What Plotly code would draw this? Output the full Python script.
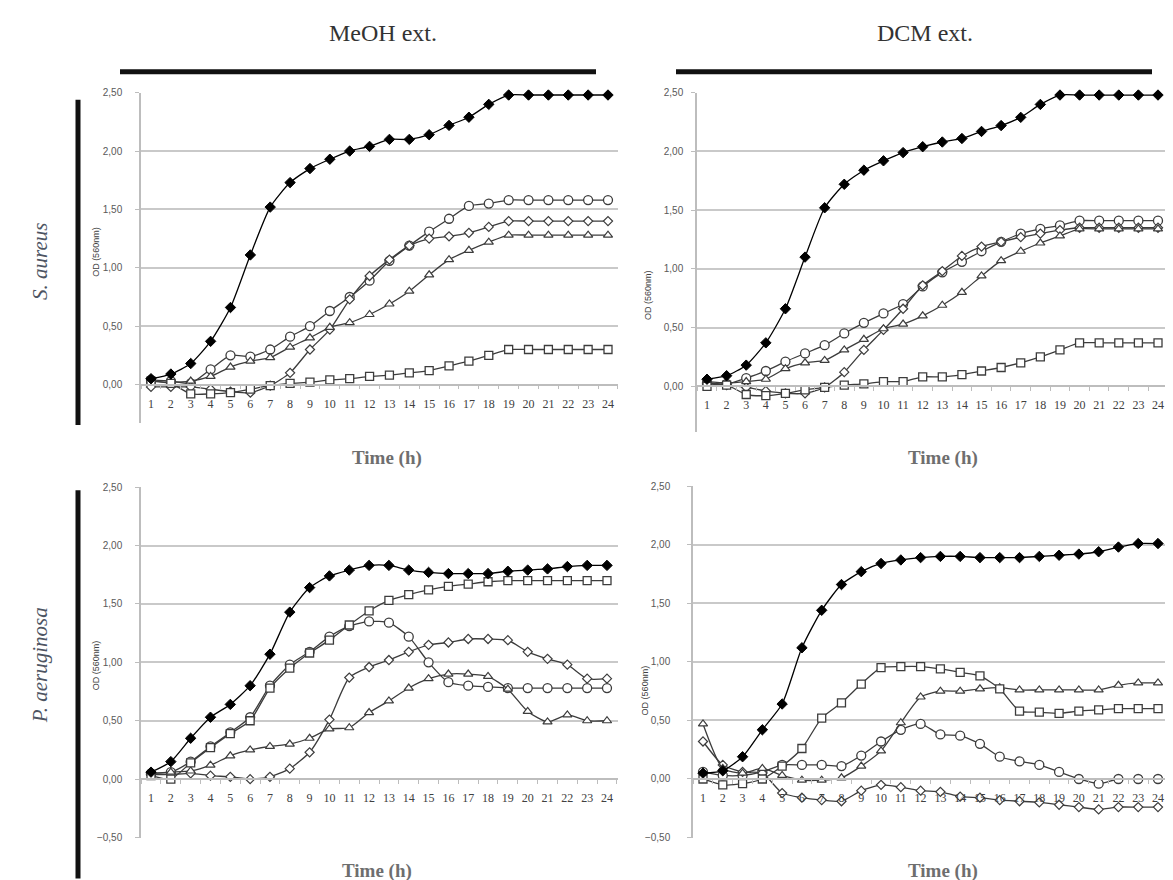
import plotly.graph_objects as go

# ---------------- data ----------------
hours = list(range(1, 25))
hour_labels = [str(h) for h in hours]

col_titles = ["MeOH ext.", "DCM ext."]
row_titles = ["S. aureus", "P. aeruginosa"]
y_title = "OD (560nm)"
x_title = "Time (h)"
series_names = ["Control", "Treatment A", "Treatment B", "Treatment C", "Treatment D"]

# S. aureus - MeOH ext.
sa_meoh_control = [0.05, 0.09, 0.18, 0.37, 0.66, 1.11, 1.52, 1.73, 1.85, 1.93, 2.00, 2.04,
                   2.10, 2.10, 2.14, 2.22, 2.29, 2.40, 2.48, 2.48, 2.48, 2.48, 2.48, 2.48]
sa_meoh_circle = [0.04, 0.03, 0.01, 0.13, 0.25, 0.24, 0.30, 0.41, 0.50, 0.63, 0.75, 0.89,
                  1.06, 1.19, 1.31, 1.42, 1.53, 1.55, 1.58, 1.58, 1.58, 1.58, 1.58, 1.58]
sa_meoh_diamond = [-0.02, -0.02, -0.02, -0.04, -0.06, -0.07, -0.01, 0.10, 0.30, 0.47, 0.73, 0.93,
                   1.07, 1.19, 1.25, 1.27, 1.30, 1.35, 1.40, 1.40, 1.40, 1.40, 1.40, 1.40]
sa_meoh_triangle = [0.03, 0.02, 0.03, 0.07, 0.15, 0.20, 0.23, 0.32, 0.40, 0.49, 0.53, 0.60,
                    0.69, 0.80, 0.94, 1.07, 1.15, 1.22, 1.28, 1.28, 1.28, 1.28, 1.28, 1.28]
sa_meoh_square = [0.03, 0.01, -0.08, -0.08, -0.07, -0.04, -0.01, 0.01, 0.02, 0.04, 0.05, 0.07,
                  0.08, 0.10, 0.12, 0.16, 0.20, 0.25, 0.30, 0.30, 0.30, 0.30, 0.30, 0.30]

# S. aureus - DCM ext.
sa_dcm_control = [0.06, 0.09, 0.18, 0.37, 0.66, 1.10, 1.52, 1.72, 1.84, 1.92, 1.99, 2.04,
                  2.08, 2.11, 2.17, 2.22, 2.29, 2.40, 2.48, 2.48, 2.48, 2.48, 2.48, 2.48]
sa_dcm_circle = [0.03, 0.02, 0.07, 0.13, 0.21, 0.28, 0.35, 0.45, 0.54, 0.62, 0.70, 0.85,
                 0.97, 1.06, 1.15, 1.23, 1.30, 1.34, 1.37, 1.41, 1.41, 1.41, 1.41, 1.41]
sa_dcm_diamond = [0.02, 0.01, -0.01, -0.04, -0.06, -0.06, -0.01, 0.12, 0.31, 0.48, 0.66, 0.86,
                  0.98, 1.11, 1.19, 1.23, 1.27, 1.30, 1.33, 1.35, 1.35, 1.35, 1.35, 1.35]
sa_dcm_triangle = [0.04, 0.03, 0.04, 0.06, 0.15, 0.20, 0.22, 0.31, 0.40, 0.49, 0.53, 0.60,
                   0.69, 0.80, 0.94, 1.07, 1.15, 1.22, 1.28, 1.34, 1.34, 1.34, 1.34, 1.34]
sa_dcm_square = [0.00, 0.01, -0.07, -0.08, -0.06, -0.03, -0.01, 0.01, 0.02, 0.04, 0.04, 0.08,
                 0.08, 0.10, 0.13, 0.16, 0.20, 0.25, 0.31, 0.37, 0.37, 0.37, 0.37, 0.37]

# P. aeruginosa - MeOH ext.
pa_meoh_control = [0.06, 0.15, 0.35, 0.53, 0.64, 0.80, 1.07, 1.43, 1.64, 1.74, 1.79, 1.83,
                   1.83, 1.79, 1.77, 1.76, 1.76, 1.76, 1.78, 1.79, 1.80, 1.82, 1.83, 1.83]
pa_meoh_circle = [0.05, 0.06, 0.15, 0.28, 0.40, 0.53, 0.80, 0.98, 1.09, 1.22, 1.31, 1.35,
                  1.34, 1.22, 1.00, 0.83, 0.80, 0.79, 0.78, 0.78, 0.78, 0.78, 0.78, 0.78]
pa_meoh_diamond = [0.04, 0.04, 0.05, 0.03, 0.02, 0.00, 0.02, 0.09, 0.23, 0.51, 0.87, 0.96,
                   1.02, 1.09, 1.15, 1.17, 1.20, 1.20, 1.19, 1.09, 1.03, 0.98, 0.86, 0.86]
pa_meoh_triangle = [0.05, 0.06, 0.07, 0.12, 0.20, 0.25, 0.28, 0.30, 0.35, 0.43, 0.44, 0.57,
                    0.67, 0.78, 0.86, 0.90, 0.90, 0.88, 0.77, 0.58, 0.49, 0.55, 0.50, 0.50]
pa_meoh_square = [0.03, 0.00, 0.14, 0.27, 0.39, 0.50, 0.78, 0.95, 1.08, 1.19, 1.32, 1.44,
                  1.53, 1.58, 1.62, 1.65, 1.67, 1.69, 1.70, 1.70, 1.70, 1.70, 1.70, 1.70]

# P. aeruginosa - DCM ext.
pa_dcm_control = [0.05, 0.07, 0.19, 0.42, 0.64, 1.12, 1.44, 1.66, 1.77, 1.84, 1.87, 1.89,
                  1.90, 1.90, 1.89, 1.89, 1.89, 1.90, 1.91, 1.92, 1.94, 1.98, 2.01, 2.01]
pa_dcm_circle = [0.06, 0.03, 0.03, 0.06, 0.12, 0.12, 0.12, 0.11, 0.20, 0.32, 0.42, 0.47,
                 0.38, 0.37, 0.30, 0.19, 0.15, 0.12, 0.06, 0.00, -0.04, 0.00, 0.00, 0.00]
pa_dcm_diamond = [0.32, 0.12, 0.06, 0.05, -0.12, -0.16, -0.18, -0.19, -0.10, -0.05, -0.07, -0.10,
                  -0.11, -0.15, -0.16, -0.18, -0.19, -0.20, -0.22, -0.24, -0.26, -0.24, -0.24, -0.24]
pa_dcm_triangle = [0.47, 0.09, 0.05, 0.09, 0.03, -0.01, -0.01, 0.01, 0.11, 0.24, 0.48, 0.70,
                   0.75, 0.75, 0.77, 0.78, 0.76, 0.76, 0.76, 0.76, 0.76, 0.80, 0.82, 0.82]
pa_dcm_square = [0.00, -0.05, -0.04, 0.00, 0.11, 0.26, 0.52, 0.65, 0.81, 0.95, 0.96, 0.96,
                 0.94, 0.91, 0.88, 0.77, 0.58, 0.57, 0.56, 0.58, 0.59, 0.60, 0.60, 0.60]

# ---------------- styling / layout ----------------
W, H = 1173, 880
LINE = "#3c3c3c"
AX = "#bdbdbd"
GRID = "#c9c9c9"
SERIF = "Liberation Serif"
SANS = "Liberation Sans"

# observed page offsets of the rendered figure (target pixel -> paper fraction)
OX = 8.0
OY = 14.4
PAPER_H = 867.0


def px(x):
    return (x - OX) / W


def py(y):
    return 1 - (y - OY) / PAPER_H


marker_styles = [
    dict(symbol="diamond", size=8, color="#000000", line=dict(color="#000000", width=1)),
    dict(symbol="circle", size=9, color="white", line=dict(color=LINE, width=1.3)),
    dict(symbol="diamond", size=7, color="white", line=dict(color=LINE, width=1.2)),
    dict(symbol="triangle-up", size=8, color="white", line=dict(color=LINE, width=1.2)),
    dict(symbol="square", size=8, color="white", line=dict(color=LINE, width=1.3)),
]

# xd: (axis x, right edge), x1: pixel of hour 1, x24: pixel of hour 24
panels = [
    dict(data=[sa_meoh_control, sa_meoh_circle, sa_meoh_diamond, sa_meoh_triangle, sa_meoh_square],
         xd=(141, 618), x1=151, x24=608, yd=(93, 423), yr=(-0.33, 2.5), stand=11,
         od=(96, 252), time=(387, 458)),
    dict(data=[sa_dcm_control, sa_dcm_circle, sa_dcm_diamond, sa_dcm_triangle, sa_dcm_square],
         xd=(697, 1173), x1=707, x24=1158, yd=(93, 432), yr=(-0.39, 2.5), stand=6,
         od=(648, 295), time=(943, 458)),
    dict(data=[pa_meoh_control, pa_meoh_circle, pa_meoh_diamond, pa_meoh_triangle, pa_meoh_square],
         xd=(141, 618), x1=151, x24=607, yd=(487, 837), yr=(-0.5, 2.5), stand=11,
         od=(96, 665), time=(377, 870)),
    dict(data=[pa_dcm_control, pa_dcm_circle, pa_dcm_diamond, pa_dcm_triangle, pa_dcm_square],
         xd=(693, 1173), x1=703, x24=1158, yd=(486, 837), yr=(-0.5, 2.5), stand=15,
         od=(645, 690), time=(943, 870)),
]

fig = go.Figure()
layout_axes = {}
annotations = []

for i, p in enumerate(panels, start=1):
    sfx = "" if i == 1 else str(i)
    xa, ya = "x" + sfx, "y" + sfx
    order = [1, 2, 3, 4, 0]
    for k in order:
        fig.add_trace(go.Scatter(
            x=hours, y=p["data"][k], xaxis=xa, yaxis=ya, name=series_names[k],
            mode="lines+markers", showlegend=False, cliponaxis=False,
            line=dict(color="#000000" if k == 0 else LINE, width=1.3, shape="spline", smoothing=0.6),
            marker=marker_styles[k],
        ))
    top, bot = p["yd"]
    ymin, ymax = p["yr"]
    zero_px = top + (ymax - 0) / (ymax - ymin) * (bot - top)
    # category axis: hour 1 sits half a bin inside the plot area
    bin_w = (p["x24"] - p["x1"]) / 23.0
    x_lo = 1 - (p["x1"] - p["xd"][0]) / bin_w
    x_hi = x_lo + (p["xd"][1] - p["xd"][0]) / bin_w
    layout_axes["xaxis" + sfx] = dict(
        domain=[px(p["xd"][0]), min(1.0, px(p["xd"][1]))], range=[x_lo, x_hi],
        anchor="free", position=py(zero_px),
        showline=True, linecolor=AX, linewidth=1.5, showgrid=False, zeroline=False,
        tickmode="array", tickvals=hours, ticktext=hour_labels, ticks="",
        tickfont=dict(family=SERIF, size=12, color="#404040"), ticklabelstandoff=8,
        minor=dict(tickmode="array", tickvals=[h + 0.5 for h in [0] + hours],
                   ticks="outside", ticklen=4, tickcolor=AX, tickwidth=1, showgrid=False),
        fixedrange=True,
    )
    layout_axes["yaxis" + sfx] = dict(
        domain=[py(bot), py(top)], range=[ymin, ymax], anchor=xa,
        showline=True, linecolor=AX, linewidth=1.5,
        showgrid=True, gridcolor=GRID, gridwidth=1.6, zeroline=False,
        tickmode="linear", tick0=0, dtick=0.5, tickformat=".2f",
        ticks="outside", ticklen=4, tickcolor=AX,
        tickfont=dict(family=SANS, size=10, color="#595959"), ticklabelstandoff=p["stand"],
        fixedrange=True,
    )
    annotations.append(dict(text=y_title, x=px(p["od"][0]), y=py(p["od"][1]), xref="paper", yref="paper",
                            textangle=-90, showarrow=False, xanchor="center", yanchor="middle",
                            font=dict(family=SANS, size=9, color="#404040")))
    annotations.append(dict(text="<b>" + x_title + "</b>", x=px(p["time"][0]), y=py(p["time"][1]),
                            xref="paper", yref="paper", showarrow=False, xanchor="center", yanchor="middle",
                            font=dict(family=SERIF, size=19, color="#6e6e6e")))

for t, cx in zip(col_titles, [383, 925]):
    annotations.append(dict(text=t, x=px(cx), y=py(33), xref="paper", yref="paper", showarrow=False,
                            xanchor="center", yanchor="middle",
                            font=dict(family=SERIF, size=24, color="#333333")))
for t, cy in zip(row_titles, [262, 665]):
    annotations.append(dict(text="<i>" + t + "</i>", x=px(40), y=py(cy), xref="paper", yref="paper",
                            showarrow=False, textangle=-90, xanchor="center", yanchor="middle",
                            font=dict(family=SERIF, size=21, color="#4d5462")))

shapes = [
    dict(type="line", xref="paper", yref="paper", x0=px(120), x1=px(596), y0=py(72), y1=py(72),
         line=dict(color="#111111", width=5)),
    dict(type="line", xref="paper", yref="paper", x0=px(676), x1=px(1152), y0=py(72), y1=py(72),
         line=dict(color="#111111", width=5)),
    dict(type="line", xref="paper", yref="paper", x0=px(78), x1=px(78), y0=py(100), y1=py(425),
         line=dict(color="#111111", width=5)),
    dict(type="line", xref="paper", yref="paper", x0=px(78), x1=px(78), y0=py(490), y1=py(878),
         line=dict(color="#111111", width=5)),
]

fig.update_layout(
    width=W, height=H, autosize=False,
    margin=dict(l=0, r=0, t=0, b=0),
    paper_bgcolor="white", plot_bgcolor="white",
    separators=",.",
    showlegend=False,
    annotations=annotations, shapes=shapes,
    **layout_axes,
)

fig.write_html("out.html")
